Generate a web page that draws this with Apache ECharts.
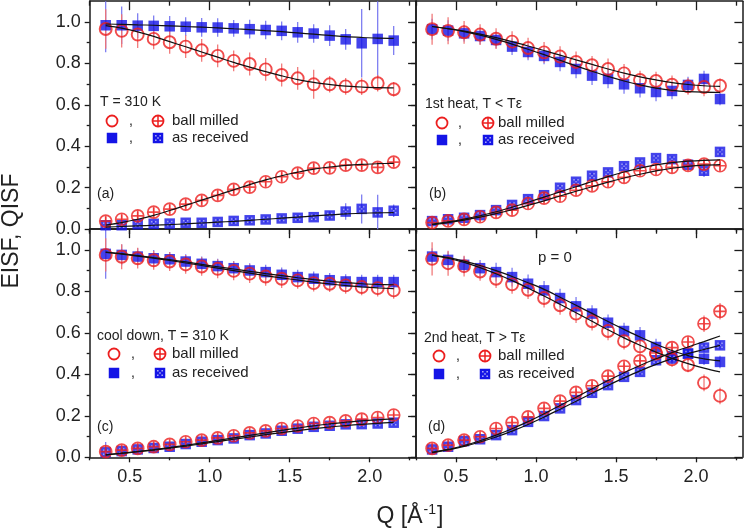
<!DOCTYPE html>
<html><head><meta charset="utf-8">
<script src="https://cdn.jsdelivr.net/npm/echarts@6/dist/echarts.min.js"></script>
<style>html,body{margin:0;padding:0;background:#fff}#c{width:747px;height:530px}</style>
</head><body><div id="c"></div>
<script>
// ---------------- data ----------------
const Q = [0.35,0.45,0.55,0.65,0.75,0.85,0.95,1.05,1.15,1.25,1.35,1.45,1.55,1.65,1.75,1.85,1.95,2.05,2.15];
const xTicks = [0.5,1.0,1.5,2.0];
const xMinorTicks = [0.25,0.75,1.25,1.75,2.25];
const yTicks = [0,0.2,0.4,0.6,0.8,1.0];
const yMinorTicks = [0.1,0.3,0.5,0.7,0.9];

// panel (a) T = 310 K
const aEisfBM    = [0.966,0.957,0.939,0.918,0.902,0.881,0.863,0.836,0.812,0.797,0.771,0.744,0.728,0.699,0.699,0.689,0.688,0.704,0.675];
const aEisfBMErr = [0.095,0.08,0.065,0.05,0.055,0.055,0.055,0.055,0.05,0.055,0.055,0.055,0.055,0.07,0.04,0.04,0.04,0.04,0.035];
const aEisfAR    = [0.984,0.984,0.982,0.981,0.979,0.977,0.974,0.973,0.969,0.965,0.961,0.957,0.950,0.944,0.934,0.916,0.897,0.918,0.910];
const aEisfARErr = [0.13,0.09,0.06,0.05,0.05,0.045,0.045,0.045,0.04,0.045,0.045,0.045,0.05,0.045,0.05,0.05,0.165,0.19,0.07];
const aQisfBM    = [0.039,0.048,0.064,0.082,0.097,0.121,0.139,0.163,0.192,0.203,0.229,0.253,0.271,0.295,0.296,0.309,0.309,0.298,0.324];
const aQisfBMErr = [0.02,0.02,0.02,0.02,0.02,0.02,0.02,0.02,0.02,0.02,0.02,0.02,0.02,0.02,0.02,0.02,0.02,0.02,0.02];
const aQisfAR    = [0.019,0.019,0.024,0.026,0.027,0.031,0.031,0.035,0.040,0.043,0.047,0.052,0.055,0.058,0.066,0.085,0.098,0.081,0.089];
const aQisfARErr = [0.015,0.015,0.015,0.015,0.015,0.015,0.015,0.015,0.015,0.015,0.015,0.015,0.015,0.015,0.02,0.04,0.07,0.085,0.03];
const aFitEisfBM = [0.982,0.970,0.952,0.930,0.905,0.880,0.855,0.830,0.805,0.782,0.760,0.740,0.722,0.708,0.698,0.690,0.686,0.683,0.682];
const aFitEisfAR = [0.990,0.988,0.986,0.984,0.981,0.978,0.975,0.971,0.967,0.963,0.958,0.953,0.947,0.941,0.935,0.929,0.925,0.922,0.921];
const aFitQisfBM = [0.020,0.032,0.048,0.067,0.090,0.115,0.140,0.165,0.190,0.215,0.238,0.258,0.275,0.290,0.300,0.308,0.313,0.316,0.318];
const aFitQisfAR = [0.010,0.013,0.016,0.019,0.022,0.026,0.030,0.034,0.038,0.043,0.048,0.053,0.058,0.064,0.069,0.074,0.077,0.079,0.080];

// panel (b) 1st heat
const bEisfBM    = [0.965,0.957,0.950,0.939,0.919,0.905,0.874,0.853,0.833,0.807,0.791,0.773,0.752,0.720,0.715,0.697,0.689,0.686,0.692];
const bEisfBMErr = [0.075,0.065,0.055,0.05,0.05,0.05,0.05,0.05,0.05,0.05,0.045,0.05,0.045,0.045,0.045,0.045,0.04,0.045,0.035];
const bEisfAR    = [0.965,0.958,0.945,0.932,0.913,0.881,0.855,0.836,0.807,0.773,0.741,0.725,0.699,0.680,0.662,0.667,0.696,0.725,0.628];
const bEisfARErr = [0.05,0.05,0.04,0.04,0.04,0.04,0.04,0.04,0.045,0.045,0.045,0.045,0.045,0.045,0.045,0.04,0.04,0.04,0.03];
const bQisfBM    = [0.032,0.040,0.047,0.060,0.081,0.092,0.124,0.150,0.159,0.188,0.209,0.229,0.250,0.282,0.288,0.298,0.308,0.314,0.306];
const bQisfBMErr = [0.015,0.015,0.015,0.015,0.015,0.015,0.015,0.015,0.015,0.015,0.015,0.015,0.015,0.015,0.015,0.015,0.015,0.02,0.02];
const bQisfAR    = [0.039,0.048,0.055,0.068,0.092,0.117,0.145,0.164,0.200,0.229,0.258,0.274,0.304,0.322,0.343,0.338,0.311,0.282,0.373];
const bQisfARErr = [0.015,0.015,0.015,0.015,0.015,0.015,0.015,0.015,0.015,0.015,0.015,0.015,0.015,0.015,0.015,0.015,0.015,0.03,0.02];
const bFitEisfBM = [0.978,0.968,0.956,0.941,0.924,0.905,0.884,0.862,0.840,0.817,0.795,0.773,0.753,0.735,0.720,0.707,0.698,0.692,0.689];
const bFitEisfAR = [0.978,0.967,0.953,0.936,0.916,0.893,0.868,0.842,0.815,0.788,0.762,0.737,0.715,0.696,0.681,0.670,0.664,0.661,0.660];
const bFitQisfBM = [0.022,0.032,0.044,0.058,0.075,0.094,0.115,0.137,0.160,0.183,0.205,0.227,0.247,0.265,0.281,0.294,0.303,0.309,0.312];
const bFitQisfAR = [0.024,0.035,0.049,0.065,0.084,0.106,0.130,0.155,0.180,0.205,0.230,0.254,0.276,0.295,0.310,0.321,0.328,0.332,0.334];

// panel (c) cool down
const cEisfBM    = [0.976,0.967,0.960,0.950,0.944,0.930,0.920,0.909,0.899,0.886,0.872,0.861,0.853,0.840,0.837,0.829,0.821,0.816,0.805];
const cEisfBMErr = [0.08,0.06,0.05,0.045,0.045,0.045,0.045,0.045,0.045,0.045,0.045,0.045,0.04,0.04,0.04,0.04,0.04,0.04,0.04];
const cEisfAR    = [0.981,0.976,0.968,0.960,0.955,0.944,0.933,0.922,0.912,0.901,0.893,0.880,0.869,0.861,0.854,0.848,0.845,0.845,0.845];
const cEisfARErr = [0.12,0.05,0.04,0.04,0.035,0.035,0.035,0.035,0.035,0.035,0.035,0.035,0.035,0.035,0.035,0.035,0.035,0.035,0.035];
const cQisfBM    = [0.027,0.035,0.043,0.051,0.062,0.075,0.083,0.094,0.104,0.118,0.127,0.139,0.151,0.163,0.167,0.176,0.184,0.192,0.204];
const cQisfBMErr = [0.012,0.012,0.012,0.012,0.012,0.012,0.012,0.012,0.012,0.012,0.012,0.012,0.012,0.012,0.012,0.012,0.012,0.012,0.012];
const cQisfAR    = [0.024,0.030,0.038,0.045,0.051,0.064,0.075,0.083,0.091,0.107,0.115,0.128,0.138,0.147,0.152,0.159,0.160,0.163,0.167];
const cQisfARErr = [0.05,0.012,0.012,0.012,0.012,0.012,0.012,0.012,0.012,0.012,0.012,0.012,0.012,0.012,0.012,0.012,0.012,0.012,0.012];
const cFitEisfBM = [0.988,0.980,0.970,0.960,0.949,0.937,0.925,0.912,0.900,0.888,0.876,0.865,0.855,0.845,0.836,0.828,0.822,0.817,0.813];
const cFitEisfAR = [0.990,0.982,0.973,0.963,0.953,0.942,0.930,0.919,0.908,0.897,0.886,0.876,0.866,0.857,0.849,0.842,0.837,0.834,0.832];
const cFitQisfBM = [0.012,0.020,0.028,0.037,0.047,0.058,0.070,0.082,0.094,0.106,0.118,0.130,0.141,0.152,0.161,0.169,0.176,0.181,0.185];
const cFitQisfAR = [0.012,0.019,0.027,0.035,0.044,0.054,0.065,0.076,0.087,0.098,0.109,0.119,0.129,0.138,0.146,0.153,0.159,0.164,0.168];

// panel (d) 2nd heat
const dEisfBM    = [0.957,0.936,0.922,0.896,0.861,0.834,0.808,0.768,0.733,0.693,0.656,0.609,0.560,0.535,0.500,0.472,0.445,0.359,0.296];
const dEisfBMErr = [0.08,0.06,0.05,0.045,0.045,0.045,0.045,0.045,0.045,0.045,0.045,0.045,0.04,0.04,0.035,0.035,0.035,0.04,0.04];
const dEisfAR    = [0.968,0.952,0.928,0.912,0.893,0.869,0.837,0.805,0.768,0.728,0.693,0.649,0.609,0.588,0.532,0.488,0.500,0.475,0.460];
const dEisfARErr = [0.04,0.04,0.04,0.04,0.045,0.045,0.045,0.045,0.045,0.045,0.04,0.04,0.04,0.04,0.04,0.035,0.035,0.03,0.03];
const dQisfBM    = [0.043,0.059,0.083,0.099,0.139,0.167,0.195,0.236,0.271,0.313,0.345,0.391,0.439,0.465,0.503,0.529,0.556,0.644,0.704];
const dQisfBMErr = [0.015,0.015,0.015,0.015,0.015,0.015,0.015,0.015,0.015,0.015,0.015,0.015,0.015,0.015,0.015,0.02,0.02,0.04,0.04];
const dQisfAR    = [0.038,0.051,0.078,0.087,0.107,0.131,0.171,0.199,0.236,0.276,0.311,0.348,0.388,0.412,0.468,0.476,0.500,0.529,0.540];
const dQisfARErr = [0.015,0.015,0.015,0.015,0.015,0.015,0.015,0.015,0.015,0.015,0.015,0.015,0.015,0.015,0.015,0.02,0.02,0.02,0.02];
const dFitEisfBM = [0.975,0.960,0.940,0.915,0.885,0.852,0.816,0.778,0.738,0.697,0.656,0.615,0.576,0.540,0.507,0.477,0.452,0.430,0.412];
const dFitEisfAR = [0.975,0.963,0.946,0.925,0.900,0.872,0.842,0.810,0.772,0.733,0.694,0.655,0.617,0.580,0.546,0.515,0.490,0.475,0.465];
const dFitQisfBM = [0.025,0.038,0.057,0.080,0.107,0.138,0.172,0.210,0.250,0.290,0.330,0.370,0.408,0.443,0.475,0.505,0.532,0.558,0.585];
const dFitQisfAR = [0.022,0.036,0.053,0.074,0.098,0.126,0.158,0.194,0.232,0.270,0.309,0.347,0.383,0.417,0.448,0.476,0.500,0.520,0.540];

// ---------------- style ----------------
const FONT = '"Liberation Sans", Arial, sans-serif';
const RED = '#ec1f1f', BLUE = '#1414e6';
const RED_ERR = '#f07070', BLUE_ERR = '#7474f0';
const AX = '#1a1a1a', TXT = '#222';
const HATCH = 'rgba(255,255,255,0.62)';
const X_MIN = 0.25, X_MAX = 2.29, Y_MIN = 0, Y_MAX = 1.1;

const panels = [
  {grid:{left:89.7, top:1.2, width:326.4, height:228}, xLab:false, yLab:true,
   eBM:aEisfBM, eBMe:aEisfBMErr, eAR:aEisfAR, eARe:aEisfARErr, qBM:aQisfBM, qBMe:aQisfBMErr, qAR:aQisfAR, qARe:aQisfARErr,
   f:[aFitEisfBM,aFitEisfAR,aFitQisfBM,aFitQisfAR]},
  {grid:{left:416.1, top:1.2, width:326.3, height:228}, xLab:false, yLab:false,
   eBM:bEisfBM, eBMe:bEisfBMErr, eAR:bEisfAR, eARe:bEisfARErr, qBM:bQisfBM, qBMe:bQisfBMErr, qAR:bQisfAR, qARe:bQisfARErr,
   f:[bFitEisfBM,bFitEisfAR,bFitQisfBM,bFitQisfAR]},
  {grid:{left:89.7, top:229.2, width:326.4, height:228.1}, xLab:true, yLab:true,
   eBM:cEisfBM, eBMe:cEisfBMErr, eAR:cEisfAR, eARe:cEisfARErr, qBM:cQisfBM, qBMe:cQisfBMErr, qAR:cQisfAR, qARe:cQisfARErr,
   f:[cFitEisfBM,cFitEisfAR,cFitQisfBM,cFitQisfAR]},
  {grid:{left:416.1, top:229.2, width:326.3, height:228.1}, xLab:true, yLab:false,
   eBM:dEisfBM, eBMe:dEisfBMErr, eAR:dEisfAR, eARe:dEisfARErr, qBM:dQisfBM, qBMe:dQisfBMErr, qAR:dQisfAR, qARe:dQisfARErr,
   f:[dFitEisfBM,dFitEisfAR,dFitQisfBM,dFitQisfAR]}
];

function axisCommon(gi, min, max){
  return {type:'value', gridIndex:gi, min:min, max:max, splitLine:{show:false}, minorTick:{show:false},
    axisPointer:{show:false}, silent:true};
}
function mkAxis(gi, isX, pos, vals, len, inside, line, labels){
  const a = axisCommon(gi, isX?X_MIN:Y_MIN, isX?X_MAX:Y_MAX);
  a.position = pos;
  a.axisLine = {show:line, onZero:false, lineStyle:{color:AX, width:1.5}};
  a.axisTick = {show:true, inside:inside, length:len, customValues:vals, lineStyle:{color:AX, width:1.3}};
  a.axisLabel = {show:labels, customValues:vals, formatter:v=>Number(v).toFixed(1),
    fontSize:18, fontFamily:FONT, color:TXT, margin:isX?11:9};
  return a;
}
const xAxes = [], yAxes = [];
panels.forEach((p, gi) => {
  xAxes.push(mkAxis(gi, true, 'bottom', xTicks, 5, false, true, p.xLab));
  xAxes.push(mkAxis(gi, true, 'bottom', xMinorTicks, 3, false, false, false));
  xAxes.push(mkAxis(gi, true, 'top', xTicks, 9, true, true, false));
  xAxes.push(mkAxis(gi, true, 'top', xMinorTicks, 4.5, true, false, false));
  yAxes.push(mkAxis(gi, false, 'left', yTicks, 5, false, true, p.yLab));
  yAxes.push(mkAxis(gi, false, 'left', yMinorTicks, 3, false, false, false));
  yAxes.push(mkAxis(gi, false, 'right', yTicks, 8, true, true, false));
  yAxes.push(mkAxis(gi, false, 'right', yMinorTicks, 4, true, false, false));
});

const CIRCLE_PLUS = 'path://M0,5A5,5,0,1,1,10,5A5,5,0,1,1,0,5ZM0,5L10,5M5,0L5,10';
const HATCH_DOTS = 'path://M0,0h1.6v1.6h-1.6zM4.4,0h1.6v1.6h-1.6zM2.2,2.2h1.6v1.6h-1.6zM0,4.4h1.6v1.6h-1.6zM4.4,4.4h1.6v1.6h-1.6z';

function errSeries(gi, vals, errs, color){
  return {type:'custom', xAxisIndex:gi*4, yAxisIndex:gi*4, silent:true, z:2,
    data:Q.map((q,i)=>[q, vals[i], errs[i]]),
    renderItem:(params, api)=>{
      const x = api.value(0), y = api.value(1), e = api.value(2);
      const lo = api.coord([x, y - e]), hi = api.coord([x, y + e]);
      const cs = params.coordSys;
      const top = Math.max(cs.y, hi[1]), bot = Math.min(cs.y + cs.height, lo[1]);
      return {type:'line', shape:{x1:lo[0], y1:top, x2:lo[0], y2:bot}, style:{stroke:color, lineWidth:1.2}};
    }};
}
function scat(gi, vals, symbol, size, itemStyle, z){
  return {type:'scatter', xAxisIndex:gi*4, yAxisIndex:gi*4, silent:true, z:z,
    symbol:symbol, symbolSize:size, itemStyle:itemStyle,
    data:Q.map((q,i)=>[q, vals[i]])};
}
function fitLine(gi, vals){
  return {type:'line', xAxisIndex:gi*4, yAxisIndex:gi*4, silent:true, z:6, smooth:0.35,
    showSymbol:false, symbol:'none', lineStyle:{color:'#111', width:1.2},
    data:Q.map((q,i)=>[q, vals[i]])};
}

const series = [];
panels.forEach((p, gi) => {
  series.push(errSeries(gi, p.eAR, p.eARe, BLUE_ERR));
  series.push(errSeries(gi, p.qAR, p.qARe, BLUE_ERR));
  series.push(errSeries(gi, p.eBM, p.eBMe, RED_ERR));
  series.push(errSeries(gi, p.qBM, p.qBMe, RED_ERR));
  series.push(scat(gi, p.eAR, 'rect', 10.5, {color:BLUE}, 3));
  series.push(scat(gi, p.qAR, 'rect', 10.5, {color:BLUE}, 3));
  series.push(scat(gi, p.qAR, HATCH_DOTS, 5.5, {color:HATCH}, 4));
  series.push(scat(gi, p.eBM, 'circle', 12, {color:'rgba(0,0,0,0)', borderColor:RED, borderWidth:1.9}, 5));
  series.push(scat(gi, p.qBM, CIRCLE_PLUS, 12, {color:'rgba(0,0,0,0)', borderColor:RED, borderWidth:1.7}, 5));
  p.f.forEach(f => series.push(fitLine(gi, f)));
});

// ---------------- annotations ----------------
function gText(x, y, str, size, align){
  return {type:'text', x:x, y:y, silent:true, z:10,
    style:{text:str, font:(size||14)+'px '+FONT, fill:TXT, textAlign:align||'left', textVerticalAlign:'middle',
           align:align||'left', verticalAlign:'middle'}};
}
function gCircle(x, y){ return {type:'circle', shape:{cx:x, cy:y, r:5.5}, style:{fill:'none', stroke:RED, lineWidth:1.8}, silent:true, z:10}; }
function gCirclePlus(x, y){
  return {type:'group', silent:true, children:[gCircle(x,y),
    {type:'line', shape:{x1:x-5.5, y1:y, x2:x+5.5, y2:y}, style:{stroke:RED, lineWidth:1.5}, z:10},
    {type:'line', shape:{x1:x, y1:y-5.5, x2:x, y2:y+5.5}, style:{stroke:RED, lineWidth:1.5}, z:10}]};
}
function gSquare(x, y){ return {type:'rect', shape:{x:x-5.25, y:y-5.25, width:10.5, height:10.5}, style:{fill:BLUE}, silent:true, z:10}; }
function gHatch(x, y){
  const ch = [gSquare(x, y)];
  [[-2.2,-2.2],[2.2,-2.2],[0,0],[-2.2,2.2],[2.2,2.2]].forEach(([dx,dy]) =>
    ch.push({type:'rect', shape:{x:x+dx-0.8, y:y+dy-0.8, width:1.6, height:1.6}, style:{fill:HATCH}, z:11}));
  return {type:'group', silent:true, children:ch};
}
function legendBlock(title, tx, ty, sx, cx, lx, r1, r2){
  return [gText(tx, ty, title, 14),
    gCircle(sx, r1), gText(cx, r1, ',', 14), gCirclePlus(sx+46, r1), gText(lx, r1, 'ball milled', 15),
    gSquare(sx, r2), gText(cx, r2, ',', 14), gHatch(sx+46, r2), gText(lx, r2, 'as received', 15)];
}

const graphic = [].concat(
  legendBlock('T = 310 K', 100, 102, 112, 129, 172, 121, 138),
  legendBlock('1st heat, T < T\u03b5', 425, 104, 442, 458, 498, 123, 140),
  legendBlock('cool down, T = 310 K', 97, 336, 114, 131, 172, 354, 373),
  legendBlock('2nd heat, T > T\u03b5', 424, 338, 439, 456, 498, 356, 374),
  [gText(97, 194, '(a)', 14), gText(429, 194, '(b)', 14), gText(97, 427, '(c)', 14), gText(428, 427, '(d)', 14),
   gText(538, 258, 'p = 0', 15),
   {type:'text', x:12, y:231, rotation:Math.PI/2, silent:true, z:10,
    style:{text:'EISF, QISF', font:'23px '+FONT, fill:TXT, textAlign:'center', textVerticalAlign:'middle', align:'center', verticalAlign:'middle'}},
   {type:'text', x:410, y:517, silent:true, z:10,
    style:{text:'{a|Q [Å}{s|-1}{a|]}', textAlign:'center', textVerticalAlign:'middle', align:'center', verticalAlign:'middle',
      rich:{a:{fontSize:23, fontFamily:FONT, fill:TXT, color:TXT, lineHeight:27},
            s:{fontSize:14, fontFamily:FONT, fill:TXT, color:TXT, verticalAlign:'top', lineHeight:14, padding:[0,1,0,1]}}}}]
);

const chart = echarts.init(document.getElementById('c'), null, {renderer:'canvas'});
chart.setOption({
  animation:false,
  backgroundColor:'#fff',
  grid:panels.map(p => Object.assign({containLabel:false}, p.grid)),
  xAxis:xAxes, yAxis:yAxes, series:series, graphic:graphic
});
</script></body></html>
